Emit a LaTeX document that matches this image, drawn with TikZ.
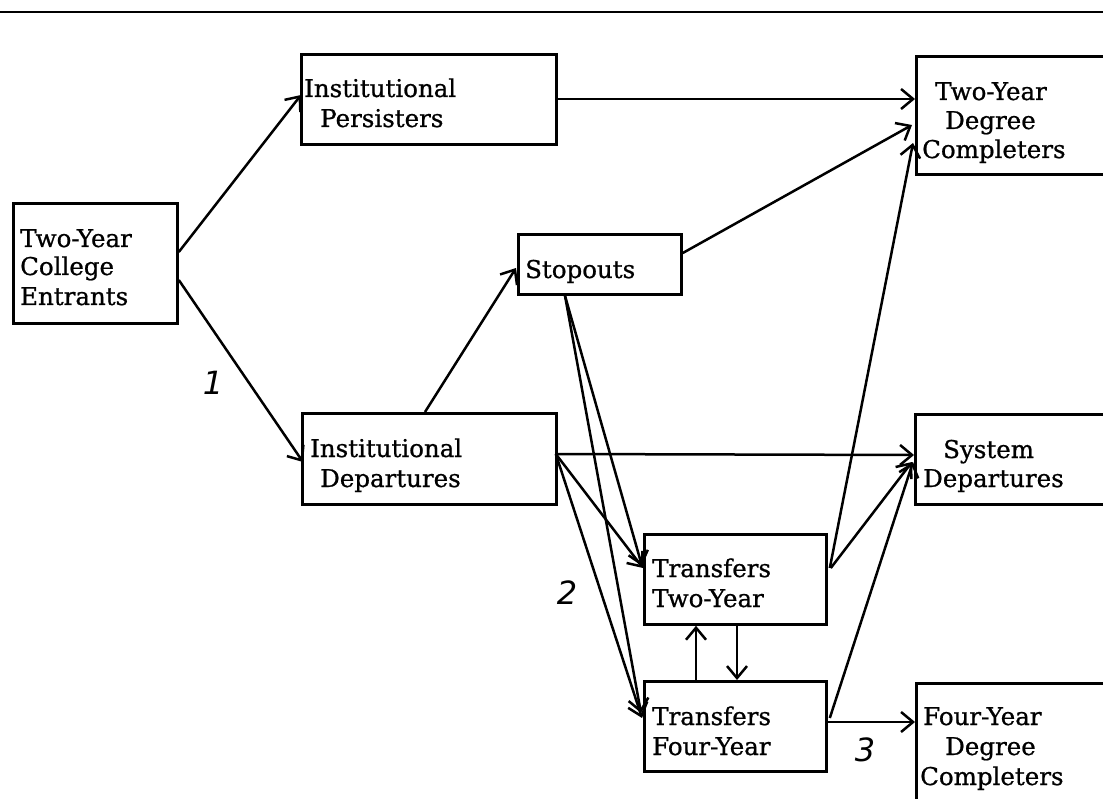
\documentclass[tikz,border=0pt]{standalone}
\usepackage{fontspec}
\setmainfont{DejaVu Serif}
\newfontfamily\boxfont{DejaVu Serif}[FakeBold=0.8]
\newfontfamily\handfont{DejaVu Sans}
\usetikzlibrary{arrows.meta,calc}
\begin{document}
\begin{tikzpicture}[x=1pt,y=-1pt,
  box/.style={draw,line width=2.8pt,inner sep=0pt,anchor=north west},
  txt/.style={anchor=base west,inner sep=0pt,font=\boxfont\fontsize{24.5}{29}\selectfont},
  hand/.style={inner sep=0pt,font=\handfont\itshape\fontsize{32}{32}\selectfont},
  conn/.style={line width=2.5pt,-{Straight Barb[length=12pt,width=20pt]}},
  rulestyle/.style={line width=2.8pt}]
\useasboundingbox (0,0) rectangle (1103,799);
% top rule
\coordinate (rl) at (0,12);
\coordinate (rr) at (1103,12);
\draw[rulestyle] (rl) -- (rr);
% boxes
\node[box,minimum width=164pt,minimum height=120pt] (ent)  at (12,202) {};
\node[box,minimum width=255pt,minimum height=90pt]  (pers) at (300,53) {};
\node[box,minimum width=200pt,minimum height=118pt] (tydc) at (915,55) {};
\node[box,minimum width=163pt,minimum height=60pt]  (stop) at (517,233) {};
\node[box,minimum width=254pt,minimum height=91pt]  (idep) at (301,412) {};
\node[box,minimum width=200pt,minimum height=90pt]  (sdep) at (914,413) {};
\node[box,minimum width=182pt,minimum height=90pt]  (tt)   at (643,533) {};
\node[box,minimum width=182pt,minimum height=90pt]  (tf)   at (643,680) {};
\node[box,minimum width=200pt,minimum height=140pt] (fydc) at (915,682) {};
% texts
\node[txt] (ent1) at (20,247) {Two-Year};
\node[txt] (ent2) at (20,275) {College};
\node[txt] (ent3) at (20,305) {Entrants};
\node[txt] (pers1) at (304,97) {Institutional};
\node[txt] (pers2) at (320,127) {Persisters};
\node[txt] (tydc1) at (935,100) {Two-Year};
\node[txt] (tydc2) at (945,129) {Degree};
\node[txt] (tydc3) at (922,158) {Completers};
\node[txt] (stop1) at (525,278) {Stopouts};
\node[txt] (idep1) at (310,457) {Institutional};
\node[txt] (idep2) at (320,487) {Departures};
\node[txt] (sdep1) at (943,458) {System};
\node[txt] (sdep2) at (923,487) {Departures};
\node[txt] (tt1) at (652,577) {Transfers};
\node[txt] (tt2) at (652,607) {Two-Year};
\node[txt] (tf1) at (652,725) {Transfers};
\node[txt] (tf2) at (652,755) {Four-Year};
\node[txt] (fydc1) at (923,725) {Four-Year};
\node[txt] (fydc2) at (945,755) {Degree};
\node[txt] (fydc3) at (920,785) {Completers};
% handwritten labels
\node[hand] (l1) at (213,383) {1};
\node[hand] (l2) at (567,593) {2};
\node[hand] (l3) at (865,750) {3};
% connectors
\draw[conn] ($(ent.north east)+(0,50)$) -- ($(pers.north west)+(1,42)$);
\draw[conn] ($(ent.north east)+(0,78)$) -- ($(idep.north west)+(2,50)$);
\draw[conn] ($(pers.north east)+(0,46)$) -- ($(tydc.north west)+(0,44)$);
\draw[conn] ($(stop.north east)+(0,20)$) -- ($(tydc.north west)+(-3,70)$);
\draw[conn] ($(tt.north east)+(2,35)$) -- ($(tydc.north west)+(-2,88)$);
\draw[conn] ($(idep.north west)+(124,0)$) -- ($(stop.north west)+(-1,35)$);
\coordinate (ic) at ($(idep.north east)+(-2,42)$);
\draw[conn] (ic) -- ($(sdep.north west)+(0,42)$);
\draw[conn] (ic) -- ($(tt.north west)+(0,35)$);
\draw[conn] (ic) -- ($(tf.north west)+(-1,38)$);
\coordinate (sb) at ($(stop.south west)+(48,0)$);
\draw[conn] (sb) -- ($(tt.north west)+(-1,33)$);
\draw[conn] (sb) -- ($(tf.north west)+(-2,33)$);
\draw[conn] ($(tt.north east)+(3,35)$) -- ($(sdep.north west)+(-2,49)$);
\draw[conn] ($(tf.north east)+(2,38)$) -- ($(sdep.north west)+(-1,49)$);
\draw[conn] ($(tf.north east)+(0,42)$) -- ($(fydc.north west)+(0,40)$);
\draw[conn] ($(tf.north west)+(53,0)$) -- ($(tt.south west)+(53,0)$);
\draw[conn] ($(tt.south west)+(94,0)$) -- ($(tf.north west)+(94,0)$);
\end{tikzpicture}
\end{document}
